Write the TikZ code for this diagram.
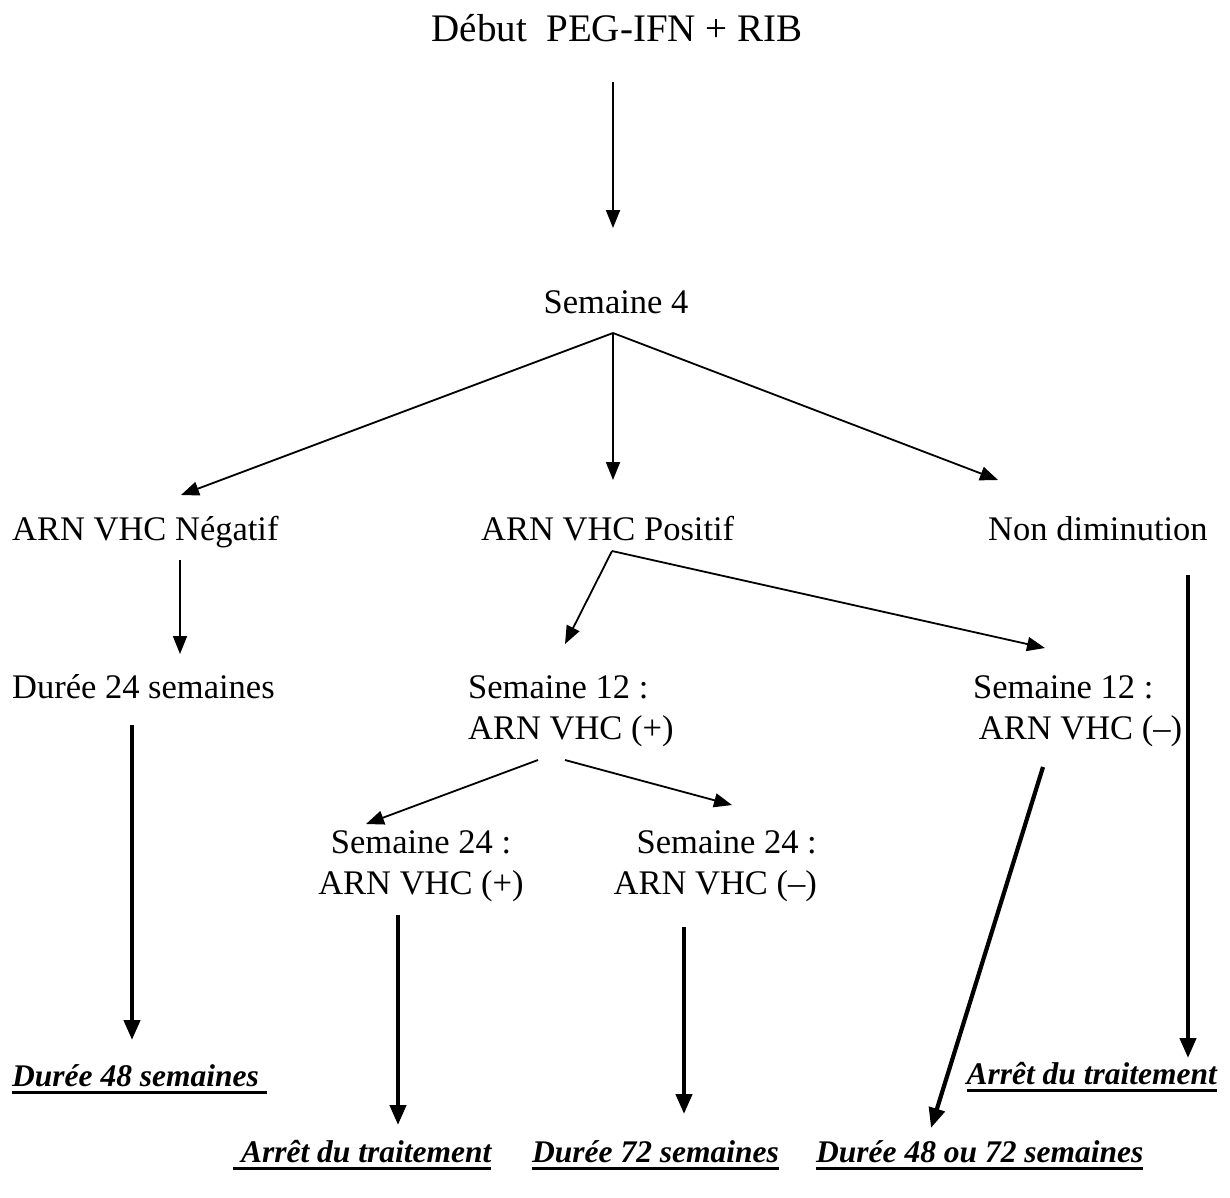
\documentclass[tikz,border=0pt]{standalone}
\usepackage{fontspec}
\setmainfont{Liberation Serif}
\usetikzlibrary{arrows.meta}
\newcommand\myul[1]{\leavevmode\vtop{\hbox{#1}\kern5pt\hrule height 2.4pt}}
\begin{document}
\begin{tikzpicture}[x=1pt,y=-1pt,
  txt/.style={inner sep=0pt, font=\fontsize{34.5}{41}\selectfont},
  ttl/.style={inner sep=0pt, font=\fontsize{39}{44}\selectfont},
  res/.style={inner sep=0pt, font=\fontsize{31.5}{40}\selectfont\bfseries\itshape},
  thin/.style={line width=1.8pt, -{Triangle[length=18pt,width=14pt]}},
  thick/.style={line width=4.2pt, -{Triangle[length=20pt,width=16pt]}}]
\useasboundingbox (0,0) rectangle (1230,1197);
% nodes
\node[ttl, anchor=base] (title) at (617,41) {Début\ \ PEG-IFN + RIB};
\node[txt, anchor=base] (s4) at (616,313) {Semaine 4};
\node[txt, anchor=base west] (neg) at (12,540) {ARN VHC Négatif};
\node[txt, anchor=base west] (pos) at (481,540) {ARN VHC Positif};
\node[txt, anchor=base west] (nond) at (988,540) {Non diminution};
\node[txt, anchor=base west] (d24) at (12,698) {Durée 24 semaines};
\node[txt, anchor=base west, align=left] (s12a) at (468,739) {Semaine 12 :\\ARN VHC (+)};
\node[txt, anchor=base west, align=left] (s12b) at (973,739) {Semaine 12 :\\\,ARN VHC (–)};
\node[txt, anchor=base, align=center] (s24a) at (421,894) {Semaine 24 :\\ARN VHC (+)};
\node[txt, anchor=base east, align=right] (s24b) at (817,894) {Semaine 24 :\\ARN VHC (–)};
\node[res, anchor=base west] (d48) at (12,1086) {\myul{Durée 48 semaines\ }};
\node[res, anchor=base east] (stop1) at (1217,1084) {\myul{Arrêt du traitement}};
\node[res, anchor=base west] (stop2) at (233,1162) {\myul{\ Arrêt du traitement}};
\node[res, anchor=base west] (d72) at (532,1162) {\myul{Durée 72 semaines}};
\node[res, anchor=base west] (d4872) at (816,1162) {\myul{Durée 48 ou 72 semaines}};
% connector end points
\coordinate (t0) at (613,82);   \coordinate (t1) at (613,228);
\coordinate (a0) at (613,333);
\coordinate (a1) at (181,495);  \coordinate (a2) at (613,480);  \coordinate (a3) at (998,480);
\coordinate (b0) at (180,560);  \coordinate (b1) at (180,654);
\coordinate (c0) at (612,551);  \coordinate (c1) at (565,644);  \coordinate (c2) at (1045,648);
\coordinate (e0) at (132,725);  \coordinate (e1) at (132,1040);
\coordinate (f0) at (1188,575); \coordinate (f1) at (1188,1058);
\coordinate (g0) at (538,760);  \coordinate (g1) at (366,824);
\coordinate (g2) at (565,760);  \coordinate (g3) at (732,805);
\coordinate (h0) at (398,915);  \coordinate (h1) at (398,1125);
\coordinate (i0) at (684,927);  \coordinate (i1) at (684,1114);
\coordinate (j0) at (1043,767); \coordinate (j1) at (931,1128);
% connectors
\draw[thin] (t0) -- (t1);
\draw[thin] (a0) -- (a1);
\draw[thin] (a0) -- (a2);
\draw[thin] (a0) -- (a3);
\draw[thin] (b0) -- (b1);
\draw[thin] (c0) -- (c1);
\draw[thin] (c0) -- (c2);
\draw[thin] (g0) -- (g1);
\draw[thin] (g2) -- (g3);
\draw[thick] (e0) -- (e1);
\draw[thick] (f0) -- (f1);
\draw[thick] (h0) -- (h1);
\draw[thick] (i0) -- (i1);
\draw[thick] (j0) -- (j1);
\end{tikzpicture}
\end{document}
